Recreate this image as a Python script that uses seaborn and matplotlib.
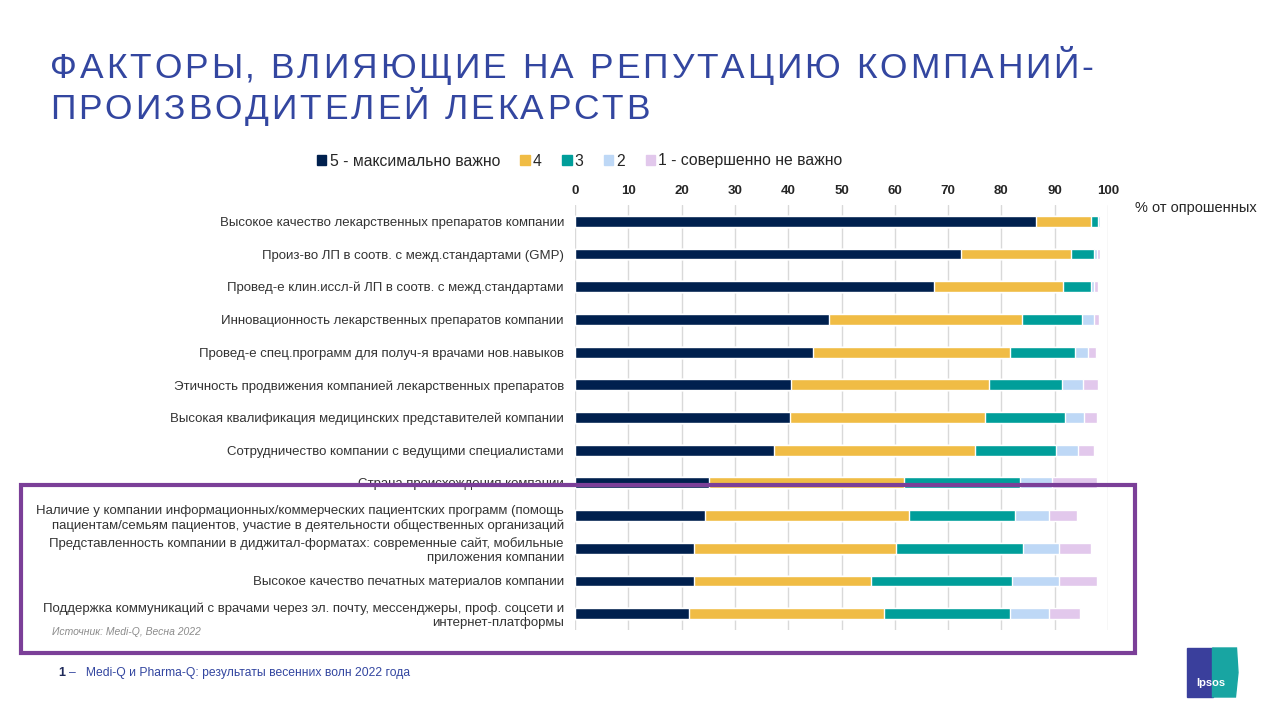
import matplotlib
matplotlib.use("Agg")
import matplotlib.pyplot as plt
import matplotlib.patches as mpatches
import numpy as np
import pandas as pd
import seaborn as sns

# --- data (% of respondents) ---
factors = [
    "Высокое качество лекарственных препаратов компании",
    "Произ-во ЛП в соотв. с межд.стандартами (GMP)",
    "Провед-е клин.иссл-й ЛП в соотв. с межд.стандартами",
    "Инновационность лекарственных препаратов компании",
    "Провед-е спец.программ для получ-я врачами нов.навыков",
    "Этичность продвижения компанией лекарственных препаратов",
    "Высокая квалификация медицинских представителей компании",
    "Сотрудничество компании с ведущими специалистами",
    "Страна происхождения компании",
    "Наличие у компании информационных/коммерческих пациентских программ (помощь\n"
    "пациентам/семьям пациентов, участие в деятельности общественных организаций",
    "Представленность компании в диджитал-форматах: современные сайт, мобильные\n"
    "приложения компании",
    "Высокое качество печатных материалов компании",
    "Поддержка коммуникаций с врачами через эл. почту, мессенджеры, проф. соцсети и\n"
    "интернет-платформы",
]
score5 = [86.4, 72.5, 67.3, 47.6, 44.6, 40.5, 40.3, 37.3, 25.2, 24.4, 22.4, 22.4, 21.4]
score4 = [10.5, 20.6, 24.3, 36.3, 37.1, 37.1, 36.7, 37.7, 36.5, 38.2, 37.8, 33.1, 36.5]
score3 = [1.2, 4.3, 5.3, 11.2, 12.2, 13.7, 15.0, 15.3, 21.7, 20.0, 23.9, 26.4, 23.8]
score2 = [0.4, 0.5, 0.4, 2.2, 2.3, 4.1, 3.5, 4.1, 6.1, 6.3, 6.8, 8.9, 7.3]
score1 = [0.1, 0.6, 0.8, 1.0, 1.5, 2.7, 2.4, 3.0, 8.4, 5.3, 6.0, 7.1, 5.8]

series_names = ["5 - максимально важно", "4", "3", "2", "1 - совершенно не важно"]
colors = ["#00204E", "#F0BC45", "#009E9A", "#BED8F6", "#E2C8EC"]
ticks = [0, 10, 20, 30, 40, 50, 60, 70, 80, 90, 100]
title_lines = ["ФАКТОРЫ, ВЛИЯЮЩИЕ НА РЕПУТАЦИЮ КОМПАНИЙ-", "ПРОИЗВОДИТЕЛЕЙ ЛЕКАРСТВ"]

df = pd.DataFrame({"factor": factors, "s5": score5, "s4": score4,
                   "s3": score3, "s2": score2, "s1": score1})
cols = ["s5", "s4", "s3", "s2", "s1"]
cum = df[cols].cumsum(axis=1)

sns.set_theme(style="white")
plt.rcParams["font.family"] = ["Liberation Sans", "DejaVu Sans"]

fig = plt.figure(figsize=(12.8, 7.2), dpi=100)
ax = fig.add_axes([575 / 1280, 1 - 630 / 720, 533 / 1280, 425 / 720])

# stacked bars: draw cumulative totals from the largest down
for col, color in reversed(list(zip(cols, colors))):
    sns.barplot(x=cum[col], y=df["factor"], orient="h", color=color,
                width=0.33, ax=ax, saturation=1, zorder=3)

ax.set_xlim(0, 100)
ax.set_xticks(ticks)
ax.xaxis.tick_top()
ax.tick_params(axis="x", length=0, pad=6, labelsize=9.5)
for lbl in ax.get_xticklabels():
    lbl.set_fontweight("bold")
    lbl.set_color("#262626")
ax.tick_params(axis="y", length=0, pad=8, labelsize=9.5, labelcolor="#333333")
ax.set_xlabel("")
ax.set_ylabel("")
ax.grid(axis="x", color="#D9D9D9", linewidth=1, zorder=0)
for s in ax.spines.values():
    s.set_visible(False)

# legend
handles = [mpatches.Patch(color=c, label=n) for c, n in zip(colors, series_names)]
fig.legend(handles=handles, loc="center left", bbox_to_anchor=(317 / 1280, 1 - 161 / 720),
           ncol=5, frameon=False, fontsize=11.3, handlelength=0.6, handleheight=0.6,
           handletextpad=0.2, columnspacing=1.3, borderaxespad=0, borderpad=0)

fig.text(1135 / 1280, 1 - 208 / 720, "% от опрошенных", fontsize=10.5,
         color="#262626", va="center", ha="left")


# title with letter spacing (PowerPoint-style tracking)
def tracked_text(x_px, base_px, text, size, color, track_px):
    renderer = fig.canvas.get_renderer()
    x = x_px
    for ch in text:
        t = fig.text(x / 1280, 1 - base_px / 720, ch, fontsize=size, color=color,
                     va="baseline", ha="left")
        w = t.get_window_extent(renderer).width if ch != " " else size * 0.278 * 100 / 72
        x += w + track_px


tracked_text(50, 78, title_lines[0], 25.5, "#3346A0", 2.9)
tracked_text(50, 119, title_lines[1], 25.5, "#3346A0", 2.9)

# highlight frame
frame = mpatches.Rectangle((21 / 1280, 1 - 653 / 720), 1114 / 1280, 168 / 720,
                           transform=fig.transFigure, fill=False,
                           edgecolor="#7B3F98", linewidth=3, zorder=10)
fig.add_artist(frame)

fig.text(52 / 1280, 1 - 632 / 720, "Источник: Medi-Q, Весна 2022", fontsize=7.5,
         color="#8C8C8C", style="italic", va="center", ha="left")

# footer
fig.text(58 / 1280, 1 - 673 / 720, "1", fontsize=9, fontweight="bold",
         color="#1F2A5A", va="center", ha="left")
fig.text(69 / 1280, 1 - 673 / 720, "–   Medi-Q и Pharma-Q: результаты весенних волн 2022 года",
         fontsize=8.7, color="#3346A0", va="center", ha="left")

# Ipsos logo
logo_l, logo_b, logo_w, logo_h = 1187 / 1280, 1 - 697 / 720, 51 / 1280, 49 / 720
fig.add_artist(mpatches.Rectangle((logo_l, logo_b), logo_w * 0.5, logo_h,
                                  transform=fig.transFigure, color="#3A3F9C", zorder=5))
fig.add_artist(mpatches.Polygon([(logo_l + logo_w * 0.5, logo_b),
                                 (logo_l + logo_w * 0.95, logo_b),
                                 (logo_l + logo_w, logo_b + logo_h * 0.5),
                                 (logo_l + logo_w * 0.97, logo_b + logo_h),
                                 (logo_l + logo_w * 0.5, logo_b + logo_h)],
                                transform=fig.transFigure, color="#18A5A2", zorder=5))
fig.text(logo_l + logo_w * 0.47, logo_b + logo_h * 0.28, "Ipsos", fontsize=8,
         fontweight="bold", color="white", ha="center", va="center", zorder=6)

fig.savefig("out.png", dpi=100)
